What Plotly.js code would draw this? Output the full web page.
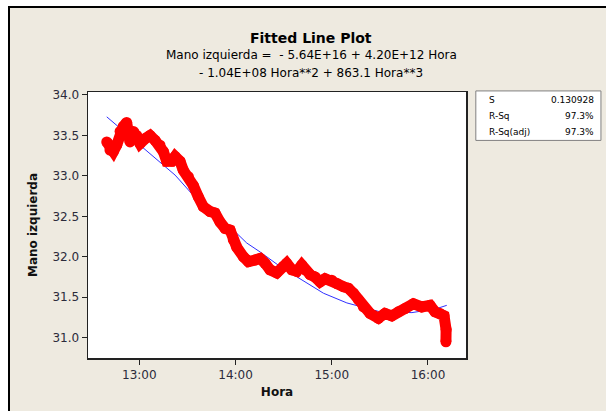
<!DOCTYPE html>
<html>
<head>
<meta charset="utf-8">
<script src="https://cdn.plot.ly/plotly-3.0.1.min.js"></script>
<style>
  html, body { margin: 0; padding: 0; background: #ffffff; overflow: hidden; }
  #frame { position: absolute; left: 8px; top: 6px; width: 598px; height: 405px;
           border-top: 2px solid #000; border-left: 2px solid #000; background: #EEEAE0; }
  #chart { width: 596px; height: 403px; }
</style>
</head>
<body>
<div id="frame"><div id="chart"></div></div>
<script>
// Observed data: Hora (time of day) vs Mano izquierda (temperature)
const hora = ['12:39:42','12:41:42','12:43:48','12:45:54','12:48:00','12:50:00','12:52:06','12:53:06','12:54:12','12:56:18',
  '12:58:24','13:00:24','13:03:36','13:06:42','13:09:48','13:12:54','13:15:00','13:17:06','13:20:12','13:22:18',
  '13:25:24','13:27:24','13:30:36','13:33:42','13:36:48','13:39:54','13:44:06','13:47:12','13:50:18','13:53:30',
  '13:56:36','13:58:36','14:00:42','14:04:54','14:08:00','14:12:12','14:15:18','14:18:24','14:21:30','14:25:42',
  '14:29:48','14:31:54','14:35:06','14:38:12','14:41:18','14:43:18','14:46:30','14:49:36','14:52:42','14:55:48',
  '15:00:00','15:03:06','15:07:12','15:10:24','15:13:30','15:16:36','15:19:42','15:23:54','15:29:06','15:33:12',
  '15:37:24','15:41:30','15:45:42','15:50:54','15:56:06','16:01:18','16:04:24','16:07:30','16:10:00','16:11:18','16:11:12'];
const manoIzquierda = [33.42,33.32,33.30,33.38,33.55,33.61,33.66,33.50,33.42,33.55,
  33.50,33.40,33.46,33.50,33.44,33.38,33.30,33.18,33.18,33.24,
  33.18,33.07,32.99,32.88,32.74,32.62,32.56,32.54,32.43,32.35,
  32.33,32.21,32.12,32.00,31.94,31.96,31.98,31.92,31.84,31.80,
  31.88,31.92,31.84,31.82,31.90,31.84,31.78,31.75,31.69,31.73,
  31.71,31.67,31.63,31.61,31.55,31.47,31.38,31.30,31.24,31.30,
  31.27,31.32,31.36,31.42,31.38,31.40,31.32,31.30,31.27,31.10,30.95];

// Fitted cubic line
const fitHora = ['12:39:42','13:03:36','13:22:18','13:32:42','13:54:30','14:07:00','14:15:18','14:27:48',
  '14:54:48','15:09:24','15:30:06','15:50:00','16:05:30','16:11:42'];
const fitValues = [33.73,33.32,33.01,32.78,32.41,32.17,32.06,31.88,31.55,31.43,31.32,31.31,31.36,31.40];

const statLabels = ['S','R-Sq','R-Sq(adj)'];
const statValues = ['0.130928','97.3%','97.3%'];

const day = '2024-01-01 ';
const toDate = arr => arr.map(h => day + h);

const traces = [
  { x: toDate(fitHora), y: fitValues, type: 'scatter', mode: 'lines',
    line: { color: '#3030FF', width: 1 }, hoverinfo: 'skip' },
  { x: toDate(hora), y: manoIzquierda, type: 'scatter', mode: 'lines+markers',
    line: { color: '#FF0000', width: 11 }, marker: { color: '#FF0000', size: 11 },
    hoverinfo: 'skip' }
];

const fontFam = 'DejaVu Sans, Verdana, sans-serif';
const layout = {
  width: 596, height: 403,
  paper_bgcolor: '#EEEAE0', plot_bgcolor: '#FFFFFF',
  margin: { l: 78, r: 140, t: 84, b: 53 },
  showlegend: false,
  font: { family: fontFam, size: 11, color: '#2b2b3b' },
  xaxis: {
    type: 'date',
    range: [day + '12:28:00', day + '16:23:42'],
    tickformat: '%H:%M', dtick: 3600000, tick0: day + '13:00:00',
    ticks: 'outside', ticklen: 5, tickcolor: '#222',
    showline: true, linecolor: '#222', linewidth: 1.5, mirror: true,
    showgrid: false, zeroline: false,
    tickfont: { family: fontFam, size: 12, color: '#2b2b3b' },
    title: { text: '<b>Hora</b>', font: { family: fontFam, size: 12, color: '#111' }, standoff: 6 }
  },
  yaxis: {
    range: [30.749, 34.037],
    tickvals: [31.0, 31.5, 32.0, 32.5, 33.0, 33.5, 34.0],
    ticktext: ['31.0','31.5','32.0','32.5','33.0','33.5','34.0'],
    ticks: 'outside', ticklen: 5, tickcolor: '#222',
    showline: true, linecolor: '#222', linewidth: 1.5, mirror: true,
    showgrid: false, zeroline: false,
    tickfont: { family: fontFam, size: 12, color: '#2b2b3b' },
    title: { text: '<b>Mano izquierda</b>', font: { family: fontFam, size: 12, color: '#111' }, standoff: 12 }
  },
  shapes: [
    { type: 'rect', xref: 'paper', yref: 'paper', x0: 1.026, x1: 1.357, y0: 0.818, y1: 1.004,
      line: { color: '#808080', width: 1 }, fillcolor: '#FFFFFF' }
  ],
  annotations: []
};

// Title block (positions in paper coords relative to plot area)
const titleLines = [
  { t: '<b>Fitted Line Plot</b>', py: 38, size: 14 },
  { t: 'Mano izquierda =  - 5.64E+16 + 4.20E+12 Hora', py: 55, size: 12 },
  { t: '- 1.04E+08 Hora**2 + 863.1 Hora**3', py: 73, size: 12 }
];
titleLines.forEach(l => {
  layout.annotations.push({ text: l.t, xref: 'paper', yref: 'paper',
    x: (311 - 88) / 378, y: (358 - l.py) / 266, xanchor: 'center', yanchor: 'middle',
    showarrow: false, font: { family: fontFam, size: l.size, color: '#000' } });
});
const rowY = [100, 116, 132];
statLabels.forEach((s, i) => {
  layout.annotations.push({ text: s, xref: 'paper', yref: 'paper', x: (487 - 88) / 378, y: (358 - rowY[i]) / 266,
    xanchor: 'left', yanchor: 'middle', showarrow: false, font: { family: fontFam, size: 9, color: '#000' } });
  layout.annotations.push({ text: statValues[i], xref: 'paper', yref: 'paper', x: (596 - 88) / 378, y: (358 - rowY[i]) / 266,
    xanchor: 'right', yanchor: 'middle', showarrow: false, font: { family: fontFam, size: 9, color: '#000' } });
});

Plotly.newPlot('chart', traces, layout, { staticPlot: true, displayModeBar: false });
</script>
</body>
</html>
